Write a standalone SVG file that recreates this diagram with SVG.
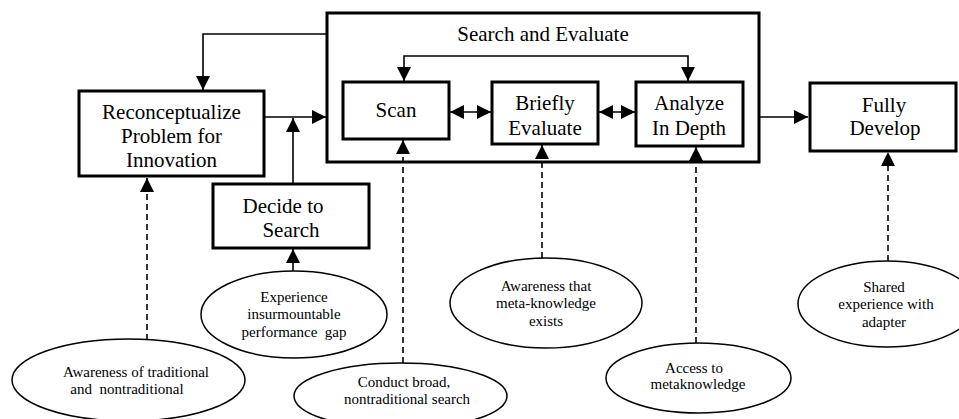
<svg xmlns="http://www.w3.org/2000/svg" width="959" height="419" viewBox="0 0 959 419">
<style>
.box{fill:#fff;stroke:#000;stroke-width:3}
.ell{fill:#fff;stroke:#000;stroke-width:1.5}
.ln{fill:none;stroke:#000;stroke-width:1.6}
.dash{fill:none;stroke:#000;stroke-width:1.6;stroke-dasharray:6,4}
</style>
<defs>
<marker id="ah" viewBox="0 0 14 14" refX="14" refY="7" markerWidth="14" markerHeight="14" markerUnits="userSpaceOnUse" orient="auto-start-reverse">
<path d="M0,0 L14,7 L0,14 z" fill="#000"/>
</marker>
</defs>
<g id="search-evaluate">
<rect class="box" x="327" y="13" width="432" height="149"/>
<text font-family="Liberation Serif" font-size="21" text-anchor="middle" x="543" y="41">Search and Evaluate</text>
</g>
<g id="connectors">
<path class="ln" d="M327,34 H203 V90" marker-end="url(#ah)"/>
<path class="ln" d="M264,117 H326" marker-end="url(#ah)"/>
<path class="ln" d="M293,184 V118" marker-end="url(#ah)"/>
<path class="ln" d="M293,271 V249" marker-end="url(#ah)"/>
<path class="ln" d="M404,81 V56 H688 V81" marker-start="url(#ah)" marker-end="url(#ah)"/>
<path class="ln" d="M450,112 H491" marker-start="url(#ah)" marker-end="url(#ah)"/>
<path class="ln" d="M599,112 H635" marker-start="url(#ah)" marker-end="url(#ah)"/>
<path class="ln" d="M759,117 H808" marker-end="url(#ah)"/>
<path class="dash" d="M147,340 V178" marker-end="url(#ah)"/>
<path class="dash" d="M403,363 V140" marker-end="url(#ah)"/>
<path class="dash" d="M542,258 V145" marker-end="url(#ah)"/>
<path class="dash" d="M696,343 V147" marker-end="url(#ah)"/>
<path class="dash" d="M888,261 V152" marker-end="url(#ah)"/>
</g>
<g id="reconceptualize">
<rect class="box" x="79" y="91" width="185" height="85"/>
<text font-family="Liberation Serif" font-size="21" text-anchor="middle" x="171.5" y="119">Reconceptualize</text>
<text font-family="Liberation Serif" font-size="21" text-anchor="middle" x="171.5" y="143">Problem for</text>
<text font-family="Liberation Serif" font-size="21" text-anchor="middle" x="171.5" y="167">Innovation</text>
</g>
<g id="decide">
<rect class="box" x="213" y="184" width="156" height="64"/>
<text font-family="Liberation Serif" font-size="21" text-anchor="middle" x="283" y="213">Decide to</text>
<text font-family="Liberation Serif" font-size="21" text-anchor="middle" x="291" y="237">Search</text>
</g>
<g id="scan">
<rect class="box" x="343" y="82" width="106" height="57"/>
<text font-family="Liberation Serif" font-size="21" text-anchor="middle" x="396" y="117">Scan</text>
</g>
<g id="briefly">
<rect class="box" x="492" y="82" width="106" height="62"/>
<text font-family="Liberation Serif" font-size="21" text-anchor="middle" x="545" y="110">Briefly</text>
<text font-family="Liberation Serif" font-size="21" text-anchor="middle" x="545" y="135">Evaluate</text>
</g>
<g id="analyze">
<rect class="box" x="636" y="82" width="107" height="64"/>
<text font-family="Liberation Serif" font-size="21" text-anchor="middle" x="689" y="110">Analyze</text>
<text font-family="Liberation Serif" font-size="21" text-anchor="middle" x="689" y="135">In Depth</text>
</g>
<g id="fully">
<rect class="box" x="810" y="83" width="146" height="68"/>
<text font-family="Liberation Serif" font-size="21" text-anchor="middle" x="884" y="112">Fully</text>
<text font-family="Liberation Serif" font-size="21" text-anchor="middle" x="885" y="135">Develop</text>
</g>
<g id="aware-trad">
<ellipse class="ell" cx="128.5" cy="380" rx="116.5" ry="41"/>
<text font-family="Liberation Serif" font-size="15" text-anchor="middle" x="136" y="377">Awareness of traditional</text>
<text font-family="Liberation Serif" font-size="15" text-anchor="middle" x="127" y="394" xml:space="preserve">and  nontraditional</text>
</g>
<g id="experience">
<ellipse class="ell" cx="294" cy="314.5" rx="93" ry="43.5"/>
<text font-family="Liberation Serif" font-size="15" text-anchor="middle" x="294" y="302">Experience</text>
<text font-family="Liberation Serif" font-size="15" text-anchor="middle" x="294" y="319">insurmountable</text>
<text font-family="Liberation Serif" font-size="15" text-anchor="middle" x="294" y="337" xml:space="preserve">performance  gap</text>
</g>
<g id="conduct">
<ellipse class="ell" cx="400.5" cy="396" rx="106.5" ry="33"/>
<text font-family="Liberation Serif" font-size="15" text-anchor="middle" x="404" y="387">Conduct broad,</text>
<text font-family="Liberation Serif" font-size="15" text-anchor="middle" x="407" y="404">nontraditional search</text>
</g>
<g id="aware-meta">
<ellipse class="ell" cx="546" cy="303" rx="96" ry="45"/>
<text font-family="Liberation Serif" font-size="15" text-anchor="middle" x="546" y="291">Awareness that</text>
<text font-family="Liberation Serif" font-size="15" text-anchor="middle" x="546" y="308">meta-knowledge</text>
<text font-family="Liberation Serif" font-size="15" text-anchor="middle" x="546" y="326">exists</text>
</g>
<g id="access">
<ellipse class="ell" cx="698.5" cy="378" rx="92.5" ry="35"/>
<text font-family="Liberation Serif" font-size="15" text-anchor="middle" x="694" y="373">Access to</text>
<text font-family="Liberation Serif" font-size="15" text-anchor="middle" x="698" y="389">metaknowledge</text>
</g>
<g id="shared">
<ellipse class="ell" cx="887" cy="304" rx="89" ry="43"/>
<text font-family="Liberation Serif" font-size="15" text-anchor="middle" x="884" y="292">Shared</text>
<text font-family="Liberation Serif" font-size="15" text-anchor="middle" x="886" y="309">experience with</text>
<text font-family="Liberation Serif" font-size="15" text-anchor="middle" x="884" y="327">adapter</text>
</g>
</svg>
